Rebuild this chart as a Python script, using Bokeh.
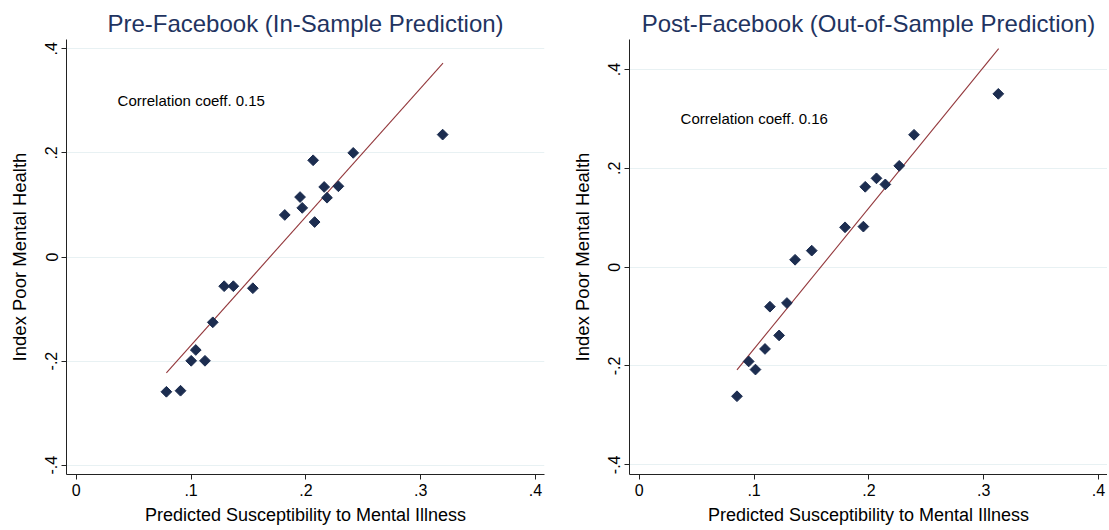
import numpy as np
from bokeh.embed import file_html
from bokeh.layouts import row
from bokeh.models import FixedTicker, Label, Range1d
from bokeh.plotting import figure
from bokeh.resources import INLINE

# Binned scatter values
pre_x = [0.0785, 0.0908, 0.1001, 0.1041, 0.1121, 0.1189, 0.1288, 0.1368, 0.1538, 0.1816,
         0.1949, 0.1968, 0.2063, 0.2076, 0.2159, 0.2184, 0.2283, 0.2412, 0.3191]
pre_y = [-0.259, -0.257, -0.1995, -0.1787, -0.1995, -0.1255, -0.0561, -0.0561, -0.060, 0.0808,
         0.1152, 0.0944, 0.1859, 0.0672, 0.1346, 0.1139, 0.1359, 0.2001, 0.2352]
pre_fit_x = [0.0785, 0.3194]
pre_fit_y = [-0.2229, 0.3728]

post_x = [0.0851, 0.0953, 0.1012, 0.1095, 0.1138, 0.1218, 0.1286, 0.1357, 0.1502, 0.1792,
          0.1952, 0.1968, 0.2066, 0.2143, 0.2264, 0.2393, 0.3127]
post_y = [-0.2612, -0.1908, -0.2072, -0.1655, -0.080, -0.1381, -0.0725, 0.0150, 0.0335, 0.0807,
          0.0821, 0.1627, 0.1798, 0.1675, 0.2051, 0.2680, 0.3508]
post_fit_x = [0.0851, 0.3130]
post_fit_y = [-0.2079, 0.4424]

x_ticks = [0, 0.1, 0.2, 0.3, 0.4]
x_labels = ["0", ".1", ".2", ".3", ".4"]
y_ticks = [-0.4, -0.2, 0, 0.2, 0.4]
y_labels = ["-.4", "-.2", "0", ".2", ".4"]

FONT = "Liberation Sans"
NAVY = "#1c2d50"
TITLE = "#1f3461"
MAROON = "#93383c"
GRID = "#e8f1f3"


def panel(title, xs, ys, fx, fy, note, y_range, width, left):
    p = figure(width=width, height=530, output_backend="svg", toolbar_location=None,
               tools="", x_range=Range1d(-0.0085, 0.4078), y_range=Range1d(*y_range),
               min_border_left=left, min_border_right=width - left - 478,
               min_border_top=39, min_border_bottom=56)
    p.title.text = title
    p.title.align = "center"
    p.title.text_font = FONT
    p.title.text_font_size = "24px"
    p.title.text_font_style = "normal"
    p.title.text_color = TITLE
    p.title.standoff = 6

    p.outline_line_color = None
    p.background_fill_color = "white"
    p.border_fill_color = "white"

    p.line(fx, fy, line_color=MAROON, line_width=1.1)
    p.scatter(xs, ys, marker="square", angle=np.pi / 4, size=7.6,
              fill_color=NAVY, line_color=NAVY)

    p.add_layout(Label(x=0.036, y=0.30, text=note, text_font=FONT, text_font_size="15px",
                       text_color="black", text_baseline="middle"))

    p.xgrid.grid_line_color = None
    p.ygrid.grid_line_color = GRID
    p.ygrid.grid_line_width = 1

    p.xaxis.ticker = FixedTicker(ticks=x_ticks)
    p.xaxis.major_label_overrides = dict(zip(x_ticks, x_labels))
    p.yaxis.ticker = FixedTicker(ticks=y_ticks)
    p.yaxis.major_label_overrides = dict(zip(y_ticks, y_labels))
    p.yaxis.major_label_orientation = "vertical"

    for ax in (p.xaxis, p.yaxis):
        ax.axis_line_color = "#222222"
        ax.major_tick_line_color = "#222222"
        ax.major_tick_out = 5
        ax.major_tick_in = 0
        ax.minor_tick_line_color = None
        ax.major_label_text_font = FONT
        ax.major_label_text_font_size = "16px"
        ax.major_label_text_color = "black"
        ax.axis_label_text_font = FONT
        ax.axis_label_text_font_size = "18px"
        ax.axis_label_text_font_style = "normal"
        ax.axis_label_text_color = "black"
        ax.major_label_standoff = 4

    p.xaxis.axis_label = "Predicted Susceptibility to Mental Illness"
    p.yaxis.axis_label = "Index Poor Mental Health"
    p.yaxis.axis_label_text_font_size = "18.5px"
    p.xaxis.axis_label_standoff = 6
    p.yaxis.axis_label_standoff = 13
    return p


left = panel("Pre-Facebook (In-Sample Prediction)", pre_x, pre_y, pre_fit_x, pre_fit_y,
             "Correlation coeff. 0.15", (-0.418, 0.418), 555, 66)
right = panel("Post-Facebook (Out-of-Sample Prediction)", post_x, post_y, post_fit_x, post_fit_y,
              "Correlation coeff. 0.16", (-0.4196, 0.4608), 552, 74)

layout = row(left, right)
open("out.html", "w").write(file_html(layout, INLINE))
